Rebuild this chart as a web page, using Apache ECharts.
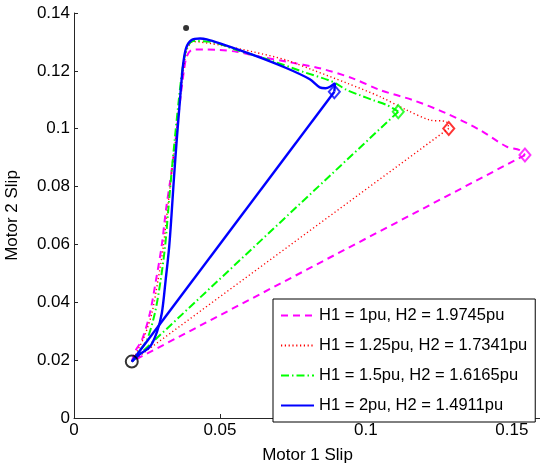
<!DOCTYPE html>
<html>
<head>
<meta charset="utf-8">
<script src="https://cdn.jsdelivr.net/npm/echarts@6/dist/echarts.min.js"></script>
<style>html,body{margin:0;padding:0;background:#fff}#c{width:540px;height:463px}</style>
</head>
<body>
<div id="c"></div>
<script>
// ---- data ----
const seriesNames = ['H1 = 1pu, H2 = 1.9745pu','H1 = 1.25pu, H2 = 1.7341pu','H1 = 1.5pu, H2 = 1.6165pu','H1 = 2pu, H2 = 1.4911pu'];
const startPoint = [0.0198, 0.0195];
const topPoint = [0.0384, 0.1348];
const curveH1_1 = [[0.0198,0.0195],[0.0212,0.0235],[0.0233,0.0270],[0.0260,0.0362],[0.0281,0.0477],[0.0300,0.0592],[0.0315,0.0719],[0.0330,0.0823],[0.0348,0.0961],[0.0368,0.1134],[0.0377,0.1203],[0.0386,0.1249],[0.0403,0.1272],[0.0442,0.1274],[0.0500,0.1272],[0.0557,0.1266],[0.0637,0.1249],[0.0728,0.1232],[0.0842,0.1209],[0.0955,0.1174],[0.1048,0.1134],[0.1161,0.1099],[0.1276,0.1053],[0.1390,0.0996],[0.1482,0.0938],[0.1527,0.0926],[0.1545,0.0909]];
const curveH1_125 = [[0.0198,0.0195],[0.0219,0.0235],[0.0243,0.0287],[0.0267,0.0363],[0.0288,0.0477],[0.0306,0.0592],[0.0320,0.0719],[0.0332,0.0823],[0.0348,0.0961],[0.0363,0.1099],[0.0375,0.1203],[0.0387,0.1272],[0.0408,0.1301],[0.0500,0.1289],[0.0613,0.1266],[0.0728,0.1237],[0.0818,0.1203],[0.0934,0.1158],[0.1048,0.1111],[0.1139,0.1065],[0.1219,0.1030],[0.1276,0.1024],[0.1284,0.1001]];
const curveH1_15 = [[0.0198,0.0195],[0.0226,0.0235],[0.0250,0.0270],[0.0277,0.0362],[0.0297,0.0477],[0.0312,0.0592],[0.0323,0.0719],[0.0332,0.0823],[0.0345,0.0961],[0.0359,0.1099],[0.0373,0.1217],[0.0387,0.1279],[0.0408,0.1303],[0.0466,0.1301],[0.0557,0.1272],[0.0671,0.1237],[0.0784,0.1197],[0.0887,0.1162],[0.0934,0.1134],[0.0979,0.1116],[0.1024,0.1099],[0.1071,0.1082],[0.1111,0.1059]];
const curveH1_2 = [[0.0198,0.0195],[0.0226,0.0221],[0.0260,0.0246],[0.0284,0.0297],[0.0301,0.0363],[0.0314,0.0477],[0.0326,0.0591],[0.0334,0.0700],[0.0342,0.0823],[0.0352,0.0961],[0.0363,0.1099],[0.0373,0.1214],[0.0384,0.1279],[0.0403,0.1307],[0.0432,0.1312],[0.0455,0.1309],[0.0500,0.1295],[0.0613,0.1255],[0.0729,0.1209],[0.0808,0.1171],[0.0842,0.1143],[0.0862,0.1140],[0.0877,0.1145],[0.0894,0.1157],[0.0892,0.1128]];
const xTicks = [0, 0.05, 0.1, 0.15];
const yTicks = [0, 0.02, 0.04, 0.06, 0.08, 0.1, 0.12, 0.14];

// ---- styles ----
const curves = [curveH1_1, curveH1_125, curveH1_15, curveH1_2];
const colors = ['#ff00ff', '#ff0000', '#00ff00', '#0000ff'];
const lineStyles = [
  {width: 2, type: [7, 5]},
  {width: 1.4, type: [1.2, 2.6]},
  {width: 2, type: [8, 3, 1.5, 3]},
  {width: 2.4, type: 'solid'}
];
const font = "'Liberation Sans', Arial, Helvetica, sans-serif";

const series = [];
curves.forEach((c, i) => {
  const end = c[c.length - 1];
  series.push({
    name: seriesNames[i], type: 'line', data: c, symbol: 'none', smooth: 0.3,
    lineStyle: Object.assign({color: colors[i]}, lineStyles[i]),
    itemStyle: {color: colors[i]}, z: 2 + i, animation: false
  });
  series.push({
    name: seriesNames[i], type: 'line', data: [end, startPoint], symbol: 'none',
    lineStyle: Object.assign({color: colors[i]}, lineStyles[i]),
    itemStyle: {color: colors[i]}, z: 2 + i, animation: false
  });
  series.push({
    type: 'scatter', data: [end], symbol: 'diamond', symbolSize: [11, 13],
    itemStyle: {color: 'rgba(0,0,0,0)', borderColor: colors[i], borderWidth: 2},
    z: 10, animation: false, silent: true
  });
});
series.push({
  type: 'scatter', data: [startPoint], symbol: 'circle', symbolSize: 12,
  itemStyle: {color: 'rgba(0,0,0,0)', borderColor: '#000', borderWidth: 2}, z: 11, animation: false
});
series.push({
  type: 'scatter', data: [topPoint], symbol: 'circle', symbolSize: 6,
  itemStyle: {color: '#000'}, z: 11, animation: false
});

const chart = echarts.init(document.getElementById('c'), null, {renderer: 'canvas'});
chart.setOption({
  backgroundColor: '#fff',
  animation: false,
  textStyle: {fontFamily: font},
  grid: {left: 74, top: 13, width: 467, height: 405, outerBoundsMode: 'none', containLabel: false},
  xAxis: {
    type: 'value', min: xTicks[0], max: 0.16, interval: 0.05,
    name: 'Motor 1 Slip', nameLocation: 'middle', nameGap: 29,
    nameTextStyle: {color: '#000', fontSize: 17, fontFamily: font},
    axisLine: {lineStyle: {color: '#262626', width: 1}},
    axisTick: {inside: true, length: 4, lineStyle: {color: '#262626'}},
    axisLabel: {color: '#000', fontSize: 17, fontFamily: font, margin: 4, showMaxLabel: false},
    splitLine: {show: false}
  },
  yAxis: {
    type: 'value', min: yTicks[0], max: yTicks[yTicks.length - 1], interval: 0.02,
    name: 'Motor 2 Slip', nameLocation: 'middle', nameGap: 53,
    nameTextStyle: {color: '#000', fontSize: 17, fontFamily: font},
    axisLine: {show: true, lineStyle: {color: '#262626', width: 1}},
    axisTick: {show: true, inside: true, length: 4, lineStyle: {color: '#262626'}},
    axisLabel: {color: '#000', fontSize: 17, fontFamily: font, margin: 4},
    splitLine: {show: false}
  },
  legend: {
    data: seriesNames, orient: 'vertical', left: 273, top: 299,
    width: 260, height: 112,
    backgroundColor: '#fff', borderColor: '#000', borderWidth: 1,
    padding: [8, 8, 8, 7], itemGap: 13, itemWidth: 33, itemHeight: 14,
    itemStyle: {opacity: 0},
    textStyle: {color: '#000', fontSize: 16.5, fontFamily: font},
    selectedMode: false
  },
  series: series
});
</script>
</body>
</html>
